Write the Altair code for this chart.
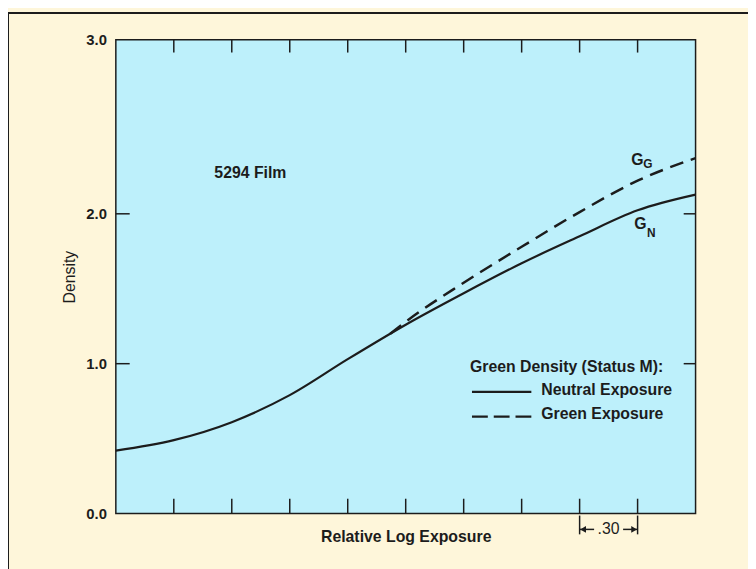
import altair as alt
import pandas as pd

# ---- data ----
exposure = [0.0, 0.3, 0.6, 0.9, 1.2, 1.5, 1.8, 2.1, 2.4, 2.7, 3.0]
neutral_density = [0.42, 0.49, 0.61, 0.79, 1.03, 1.26, 1.47, 1.67, 1.85, 2.02, 2.11]
green_exposure = [1.42, 1.5, 1.8, 2.1, 2.4, 2.7, 3.0]
green_density = [1.20, 1.28, 1.54, 1.78, 2.01, 2.19, 2.32]
x_tick_values = [0.3, 0.6, 0.9, 1.2, 1.5, 1.8, 2.1, 2.4, 2.7]
y_tick_values = [1.0, 2.0]
y_label_values = [0.0, 1.0, 2.0, 3.0]

W, H = 586, 479
FONT = "Liberation Sans"
INK = "#1c1c1c"
CREAM = "#fef6da"
CYAN = "#bdf0fb"

xs = alt.Scale(domain=[0, 3.0], nice=False, zero=False)
ys = alt.Scale(domain=[0, 2, 3], range=[H, 176, 0], nice=False, zero=False)

x_axis = alt.Axis(labels=False, ticks=False, domain=False, grid=False,
                  title="Relative Log Exposure")
y_axis = alt.Axis(labels=False, ticks=False, domain=False, grid=False, title="Density")


def X(field="x"):
    return alt.X(f"{field}:Q", scale=xs, axis=x_axis)


def Y(field="y"):
    return alt.Y(f"{field}:Q", scale=ys, axis=y_axis)


neutral_df = pd.DataFrame({"x": exposure, "y": neutral_density})
green_df = pd.DataFrame({"x": green_exposure, "y": green_density})
xt_df = pd.DataFrame({"x": x_tick_values})
yt_df = pd.DataFrame({"y": y_tick_values})
ylab_df = pd.DataFrame({"y": y_label_values,
                        "label": [f"{v:.1f}" for v in y_label_values]})
one = pd.DataFrame({"a": [0]})

neutral_line = alt.Chart(neutral_df).mark_line(
    color=INK, strokeWidth=2.2, interpolate="monotone").encode(x=X(), y=Y())
green_line = alt.Chart(green_df).mark_line(
    color=INK, strokeWidth=2.5, strokeDash=[14, 8], interpolate="monotone").encode(x=X(), y=Y())

# y tick labels, placed through the y scale
y_labels = alt.Chart(ylab_df).mark_text(
    font=FONT, fontSize=15, fontWeight="bold", color=INK, align="right",
    baseline="middle").encode(y=Y(), x=alt.value(-9), text="label:N")

# inward ticks
bottom_ticks = alt.Chart(xt_df).mark_rule(color=INK, strokeWidth=1.5).encode(
    x=X(), y=alt.value(H - 15), y2=alt.value(H))
top_ticks = alt.Chart(xt_df).mark_rule(color=INK, strokeWidth=1.5).encode(
    x=X(), y=alt.value(0), y2=alt.value(13))
left_ticks = alt.Chart(yt_df).mark_rule(color=INK, strokeWidth=1.5).encode(
    y=Y(), x=alt.value(0), x2=alt.value(14))
right_ticks = alt.Chart(yt_df).mark_rule(color=INK, strokeWidth=1.5).encode(
    y=Y(), x=alt.value(W - 12), x2=alt.value(W))

# outer frame
frame = alt.Chart(one).mark_rect(fillOpacity=0, stroke=INK, strokeWidth=2).encode(
    x=alt.value(-109), x2=alt.value(760), y=alt.value(-27), y2=alt.value(640))


def txt(text, x, y, size=16, weight="bold", align="left"):
    return alt.Chart(one).mark_text(
        text=text, font=FONT, fontSize=size, fontWeight=weight, color=INK,
        align=align, baseline="alphabetic").encode(x=alt.value(x), y=alt.value(y))


film = txt("5294 Film", 136, 140, align="center")
gg = txt("G", 521, 127) + txt("G", 533, 130, size=12)
gn = txt("G", 524, 191) + txt("N", 537, 199, size=12)

legend_title = txt("Green Density (Status M):", 358, 336)
legend_n = txt("Neutral Exposure", 430, 359)
legend_g = txt("Green Exposure", 430, 383)
legend_solid = alt.Chart(one).mark_rule(color=INK, strokeWidth=2.4).encode(
    x=alt.value(360), x2=alt.value(420), y=alt.value(356))
legend_dash = alt.Chart(one).mark_rule(color=INK, strokeWidth=2.4, strokeDash=[16, 6]).encode(
    x=alt.value(360), x2=alt.value(420), y=alt.value(381))

# .30 interval marker below the axis
span_df = pd.DataFrame({"x": [2.4, 2.7]})
span_bars = alt.Chart(span_df).mark_rule(color=INK, strokeWidth=1.5).encode(
    x=X(), y=alt.value(481), y2=alt.value(500))
arrow_l = alt.Chart(pd.DataFrame({"x": [2.4], "x2": [2.475]})).mark_rule(
    color=INK, strokeWidth=1.5).encode(x=X(), x2="x2:Q", y=alt.value(495))
arrow_r = alt.Chart(pd.DataFrame({"x": [2.625], "x2": [2.7]})).mark_rule(
    color=INK, strokeWidth=1.5).encode(x=X(), x2="x2:Q", y=alt.value(495))
head_l = alt.Chart(pd.DataFrame({"x": [2.418]})).mark_point(
    shape="triangle-left", filled=True, color=INK, size=45, opacity=1).encode(
    x=X(), y=alt.value(495))
head_r = alt.Chart(pd.DataFrame({"x": [2.682]})).mark_point(
    shape="triangle-right", filled=True, color=INK, size=45, opacity=1).encode(
    x=X(), y=alt.value(495))
span_text = alt.Chart(pd.DataFrame({"x": [2.55]})).mark_text(
    text=".30", font=FONT, fontSize=16, fontWeight="normal", color=INK,
    align="center", baseline="alphabetic").encode(x=X(), y=alt.value(500))

chart = alt.layer(
    frame, neutral_line, green_line, y_labels,
    bottom_ticks, top_ticks, left_ticks, right_ticks,
    film, gg, gn, legend_title, legend_n, legend_g, legend_solid, legend_dash,
    span_bars, arrow_l, arrow_r, head_l, head_r, span_text,
).properties(
    width=W, height=H,
    padding={"left": 109, "top": 29, "right": 53, "bottom": 53},
    autosize=alt.AutoSizeParams(type="none"),
    background=CREAM,
).configure_view(
    fill=CYAN, stroke=INK, strokeWidth=1.5
).configure_axisX(
    titleFont=FONT, titleFontSize=16, titleFontWeight="bold", titleColor=INK,
    titlePadding=15,
).configure_axisY(
    titleFont=FONT, titleFontSize=16, titleFontWeight="normal",
    titleColor=INK, titlePadding=39,
)

chart.save("out.html", embed_options={"renderer": "svg", "actions": False})
